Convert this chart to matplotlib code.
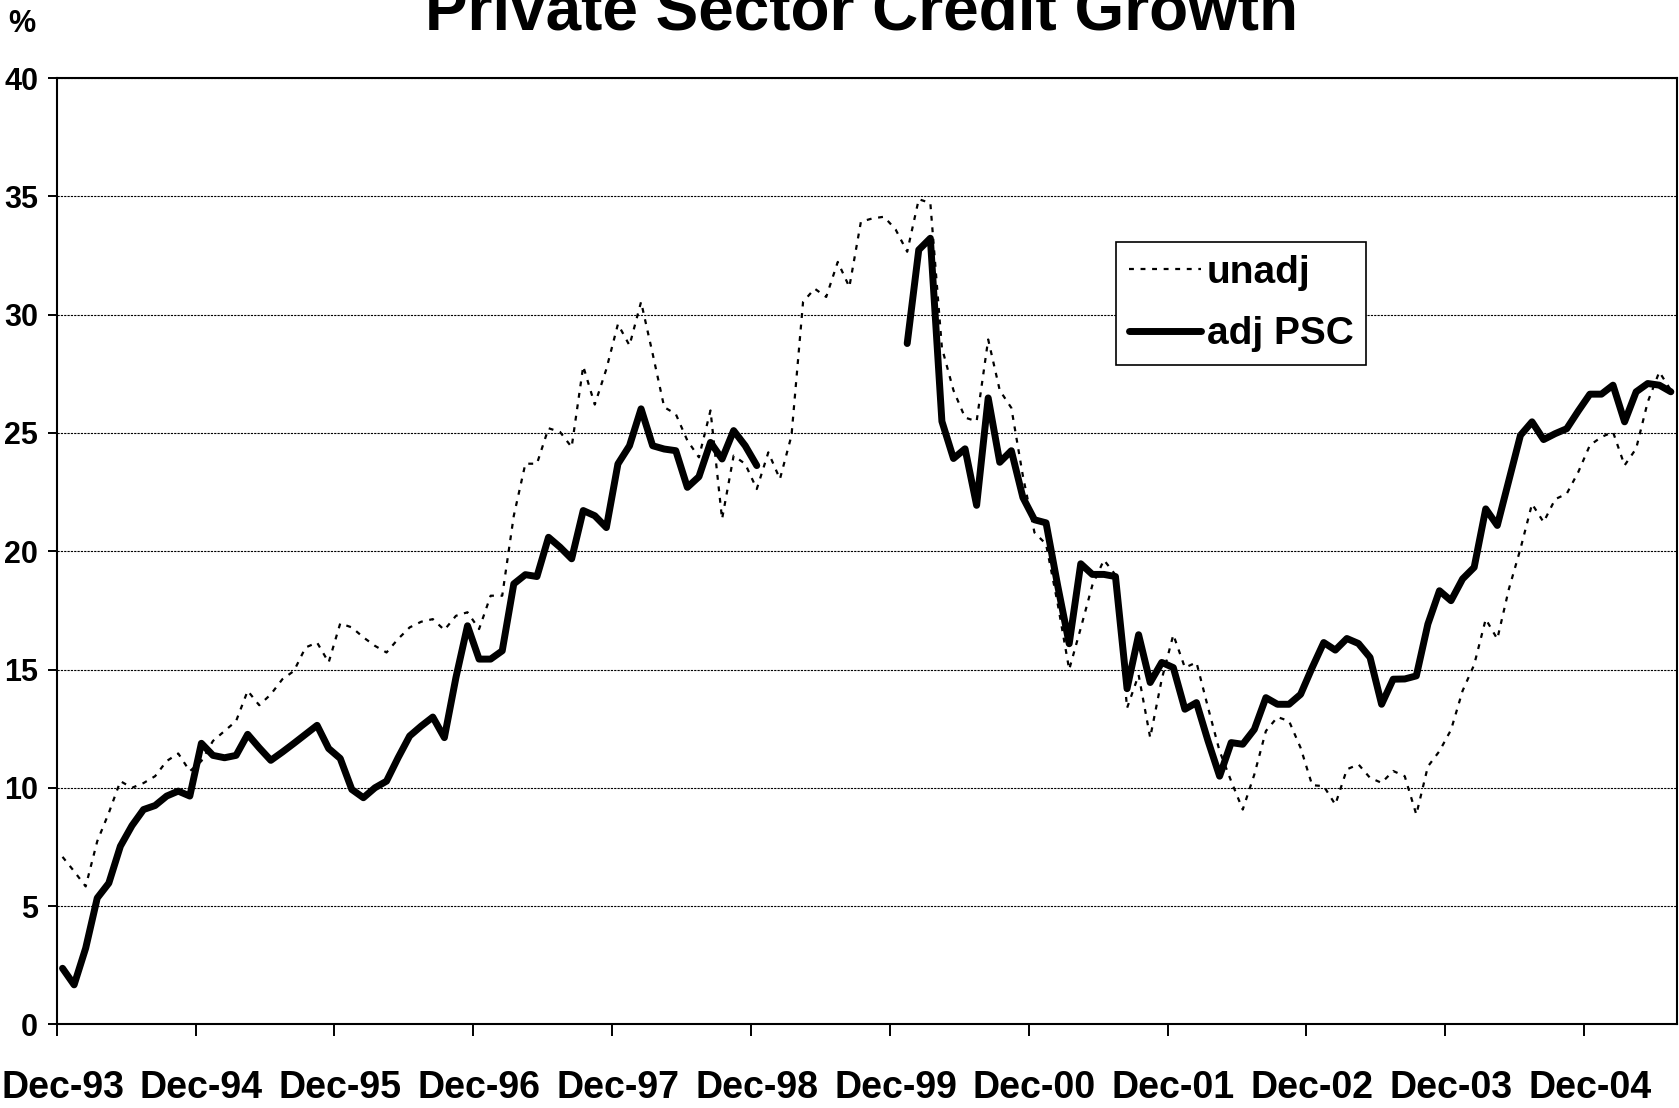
import numpy as np
import matplotlib
matplotlib.use("Agg")
import matplotlib.pyplot as plt

plt.rcParams['font.family'] = ['Liberation Sans', 'DejaVu Sans']
plt.rcParams['font.weight'] = 'bold'

# monthly growth rates, Dec-93 .. Jul-05 (140 months)
unadj = [7.08, 6.47, 5.83, 7.74, 8.94, 10.28, 10.0, 10.2, 10.49, 11.13, 11.45, 10.7,
         11.13, 11.98, 12.4, 12.82, 14.1, 13.49, 13.95, 14.59, 14.94, 15.93, 16.14, 15.3,
         16.95, 16.78, 16.36, 16.0, 15.72, 16.29, 16.78, 17.02, 17.13, 16.67, 17.27, 17.42,
         16.71, 18.12, 18.12, 21.5, 23.7, 23.7, 25.2, 25.04, 24.4, 27.82, 26.2, 27.7,
         29.6, 28.7, 30.54, 28.35, 26.09, 25.8, 24.68, 23.97, 25.95, 21.36, 24.04, 23.69,
         22.63, 24.18, 23.05, 24.89, 30.54, 31.1, 30.75, 32.23, 31.17, 33.93, 34.07, 34.14,
         33.6, 32.66, 34.88, 34.72, 28.6, 26.8, 25.65, 25.49, 28.95, 26.8, 26.06, 23.18,
         20.79, 20.3, 17.8, 15.0, 16.75, 18.56, 19.63, 19.0, 13.37, 14.77, 12.12, 14.59,
         16.47, 15.08, 15.3, 13.39, 11.55, 10.28, 9.08, 10.56, 12.4, 12.99, 12.82, 11.69,
         10.11, 10.07, 9.29, 10.78, 10.99, 10.42, 10.21, 10.71, 10.49, 8.87, 10.9, 11.55,
         12.45, 14.1, 15.2, 17.13, 16.29, 18.4, 20.1, 22.0, 21.23, 22.2, 22.43, 23.35,
         24.48, 24.83, 25.04, 23.63, 24.34, 26.31, 27.58, 26.81]

nan = np.nan
adj_psc = [2.37, 1.67, 3.22, 5.34, 5.97, 7.53, 8.40, 9.08, 9.25, 9.65, 9.86, 9.65,
           11.88, 11.37, 11.27, 11.37, 12.26, 11.69, 11.16, 11.51, 11.88, 12.26, 12.64, 11.66,
           11.24, 9.93, 9.58, 10.0, 10.28, 11.27, 12.19, 12.61, 12.99, 12.12, 14.66, 16.85,
           15.44, 15.44, 15.79, 18.62, 19.01, 18.93, 20.59, 20.17, 19.68, 21.72, 21.5, 21.0,
           23.69, 24.46, 26.02, 24.46, 24.32, 24.25, 22.7, 23.15, 24.6, 23.9, 25.1, 24.46,
           23.62, nan, nan, nan, nan, nan, nan, nan, nan, nan, nan, nan,
           nan, 28.78, 32.74, 33.23, 25.49, 23.92, 24.33, 21.94, 26.48, 23.76, 24.25, 22.27,
           21.33, 21.2, 18.56, 16.09, 19.47, 19.02, 19.02, 18.93, 14.19, 16.47, 14.45, 15.3,
           15.08, 13.32, 13.6, 11.98, 10.49, 11.91, 11.84, 12.47, 13.81, 13.53, 13.53, 13.95,
           15.08, 16.14, 15.82, 16.31, 16.1, 15.51, 13.53, 14.59, 14.6, 14.73, 16.92, 18.33,
           17.91, 18.83, 19.32, 21.79, 21.09, 23.0, 24.9, 25.47, 24.72, 24.97, 25.18, 25.93,
           26.64, 26.64, 27.02, 25.47, 26.74, 27.09, 27.02, 26.74]

year_labels = ["Dec-93", "Dec-94", "Dec-95", "Dec-96", "Dec-97", "Dec-98",
               "Dec-99", "Dec-00", "Dec-01", "Dec-02", "Dec-03", "Dec-04"]

n = len(unadj)
x = np.arange(n) + 0.5

fig = plt.figure(figsize=(16.79, 11.08), dpi=100)
ax = fig.add_axes([0.0338, 0.0755, 0.9648, 0.854])

ax.plot(x, unadj, color='black', lw=1.6, linestyle=(0, (2.2, 3.0)), label='unadj')
ax.plot(x, adj_psc, color='black', lw=5, solid_joinstyle='round',
        solid_capstyle='round', label='adj PSC')

ax.set_xlim(0, n)
ax.set_ylim(0, 40)
ax.set_yticks(np.arange(0, 41, 5))
ax.yaxis.grid(True, color='black', lw=0.8, linestyle=(0, (2, 1)))
ax.set_axisbelow(True)

# tick marks at category boundaries, labels centred on the December month
ax.set_xticks(np.arange(0, n, 12))
ax.set_xticklabels([])
ax.set_xticks(np.arange(0, n, 12) + 0.5, minor=True)
ax.set_xticklabels(year_labels, minor=True, fontsize=27, fontweight='bold')
ax.tick_params(axis='x', which='major', direction='out', length=8.5, width=1.4)
ax.tick_params(axis='x', which='minor', length=0, pad=33)
ax.tick_params(axis='y', direction='out', length=6.5, width=1.4, pad=7, labelsize=22)
for lab in ax.get_yticklabels():
    lab.set_fontweight('bold')

for sp in ax.spines.values():
    sp.set_linewidth(1.5)
    sp.set_color('black')

leg = ax.legend(loc='upper left', bbox_to_anchor=(0.654, 0.8266), fontsize=28,
                frameon=True, fancybox=False, edgecolor='black', framealpha=1,
                handlelength=1.85, handletextpad=0.15, labelspacing=0.65,
                borderpad=0.33, borderaxespad=0)
leg.get_frame().set_linewidth(1.2)
for t in leg.get_texts():
    t.set_fontweight('bold')

fig.text(0.513, 0.973, "Private Sector Credit Growth", ha='center', va='baseline',
         fontsize=46, fontweight='bold')
fig.text(0.005, 0.971, "%", ha='left', va='baseline', fontsize=22, fontweight='bold')

fig.savefig("out.png", dpi=100)
